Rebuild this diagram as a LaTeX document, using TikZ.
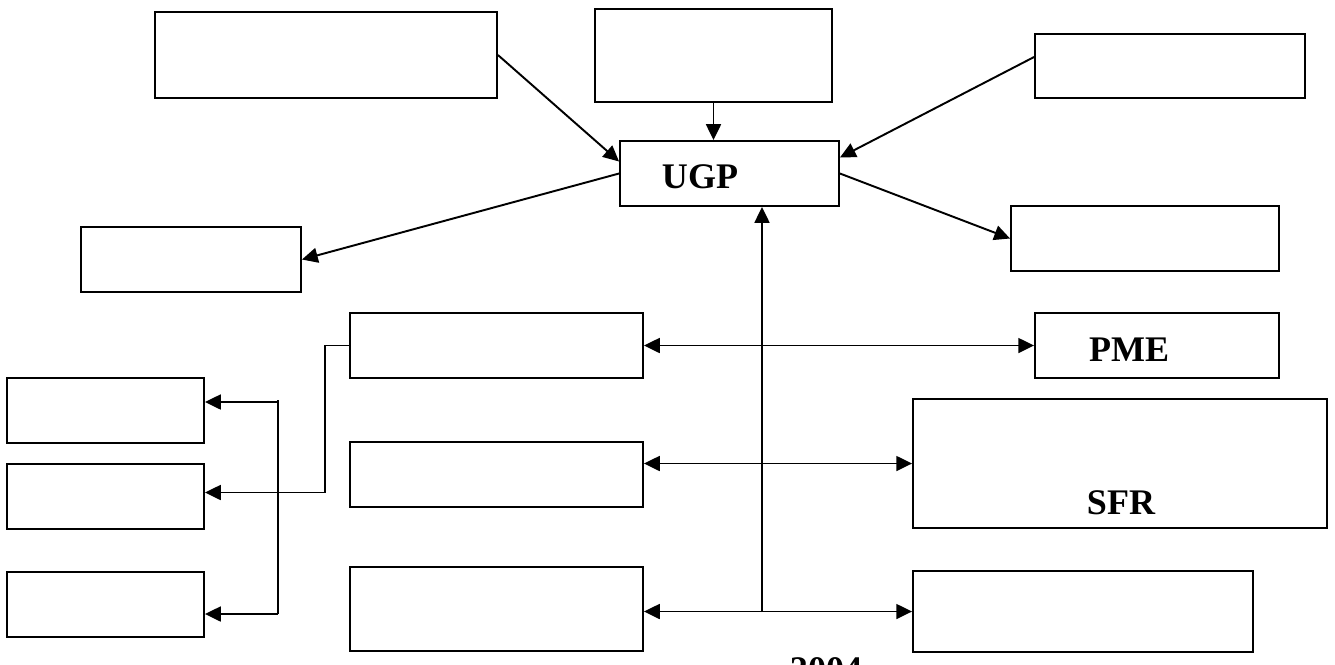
\documentclass[tikz,border=0pt]{standalone}
\usepackage{fontspec}
\setmainfont{Liberation Serif}
\usetikzlibrary{arrows.meta,calc}

\tikzset{
    box/.style={draw, line width=1.1pt, fill=white, minimum height=1.3cm, inner sep=0pt},
    lbl/.style={font=\fontsize{20.5}{20.5}\selectfont\bfseries, inner sep=0pt},
    link/.style={line width=1.1pt},
}

\begin{document}
\begin{tikzpicture}[x=0.02cm, y=-0.02cm, >={Triangle[length=9pt,width=8.5pt]}]
            \useasboundingbox (0,0) rectangle (1335,664);

            % Central node
            \node[box, minimum width=4.38cm] (ugp) at (729.5,173.5) {};
            \node[lbl] (ugptxt) at (700,177) {UGP};

            % Top nodes
            \node[box, minimum width=6.84cm, minimum height=1.72cm] (tl) at (326,55) {};
            \node[box, minimum width=4.74cm, minimum height=1.86cm] (tm) at (713.5,55.5) {};
            \node[box, minimum width=5.4cm, minimum height=1.28cm] (tr) at (1170,66) {};

            % Side nodes
            \node[box, minimum width=4.4cm] (l1) at (191,259.5) {};
            \node[box, minimum width=5.36cm] (r1) at (1145,238.5) {};

            % Middle column
            \node[box, minimum width=5.86cm] (m1) at (496.5,345.5) {};
            \node[box, minimum width=5.86cm] (m2) at (496.5,474.5) {};
            \node[box, minimum width=5.86cm, minimum height=1.68cm] (m3) at (496.5,609) {};

            % Right column
            \node[box, minimum width=4.88cm] (pme) at (1157,345.5) {};
            \node[lbl] (pmetxt) at (1129,350) {PME};
            \node[box, minimum width=8.28cm, minimum height=2.58cm] (sfr) at (1120,463.5) {};
            \node[lbl] (sfrtxt) at (1121,503) {SFR};
            \node[box, minimum width=6.8cm, minimum height=1.62cm] (r3) at (1083,611.5) {};

            % Left column
            \node[box, minimum width=3.94cm] (a1) at (105.5,410.5) {};
            \node[box, minimum width=3.94cm] (a2) at (105.5,496.5) {};
            \node[box, minimum width=3.94cm] (a3) at (105.5,604.5) {};

            % Year
            \node[lbl, anchor=base] (year) at (826,681) {2004};

            % Arrows into UGP
            \draw[link, ->] (tl.east) -- ($(ugp.west)+(0,-12)$);
            \draw[link, ->] (tm.south) -- (tm.south |- ugp.north);
            \draw[link, ->] ($(tr.west)+(0,-9)$) -- ($(ugp.east)+(0,-16)$);
            \draw[link, ->] (ugp.west) -- (l1.east);
            \draw[link, ->] (ugp.east) -- (r1.west);

            % Stem up to UGP
            \coordinate (stem) at (762,612);
            \draw[link, ->] (stem) -- (stem |- ugp.south);

            % Two-way links
            \draw[link, <->] (m1.east) -- (pme.west);
            \draw[link, <->] (sfr.west -| m2.east) -- (sfr.west);
            \draw[link, <->] (r3.west -| m3.east) -- (r3.west);

            % Left bus
            \coordinate (b1) at (278,402);
            \coordinate (b3) at (278,614);
            \draw[link] ($(b1)+(0,-2)$) -- (b3);
            \draw[link, ->] (b1) -- (b1 -| a1.east);
            \draw[link, ->] (b3) -- (b3 -| a3.east);
            \draw[link, ->] (m1.west) -- ++(-24,0) |- ($(a2.east)+(0,-4)$);

        \end{tikzpicture}
\end{document}
